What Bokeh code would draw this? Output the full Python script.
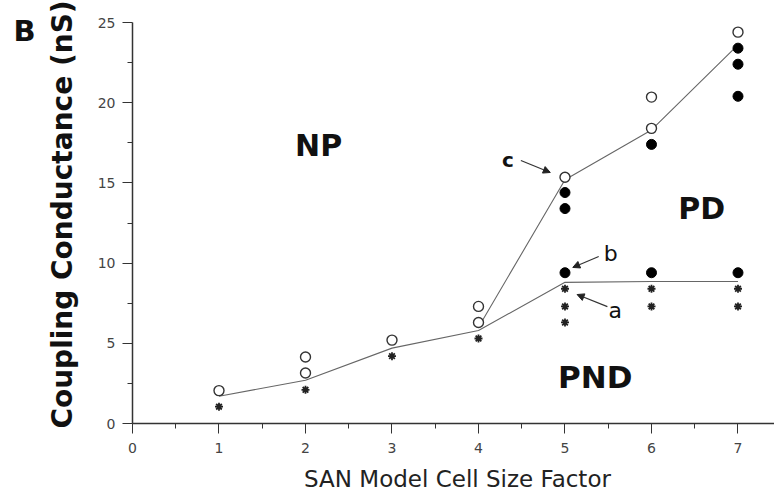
import math
from bokeh.plotting import figure
from bokeh.models import FixedTicker, Range1d, Label, Arrow, NormalHead
from bokeh.embed import file_html
from bokeh.resources import INLINE

# ---- data ----
open_x = [1, 2, 2, 3, 4, 4, 5, 6, 6, 7]
open_y = [2.05, 4.15, 3.15, 5.2, 7.3, 6.3, 15.35, 20.35, 18.4, 24.4]
filled_x = [5, 5, 5, 6, 6, 7, 7, 7, 7]
filled_y = [14.4, 13.4, 9.4, 17.4, 9.4, 23.4, 22.4, 20.4, 9.4]
star_x = [1, 2, 3, 4, 5, 5, 5, 6, 6, 7, 7]
star_y = [1.05, 2.1, 4.2, 5.3, 8.4, 7.3, 6.3, 8.4, 7.3, 8.4, 7.3]
lower_x = [1, 2, 3, 4, 5, 6, 7]
lower_y = [1.7, 2.7, 4.7, 5.8, 8.8, 8.85, 8.85]
upper_x = [4, 5, 6, 7]
upper_y = [6.0, 15.2, 18.3, 23.6]
x_ticks = [0, 1, 2, 3, 4, 5, 6, 7]
x_minor = [0.5, 1.5, 2.5, 3.5, 4.5, 5.5, 6.5]
y_ticks = [0, 5, 10, 15, 20, 25]
y_minor = [2.5, 7.5, 12.5, 17.5, 22.5]
regions = ["NP", "PD", "PND"]

# frame fills the canvas; axes are pinned at 0 with fixed_location
p = figure(width=774, height=494, x_range=Range1d(-1.526, 7.422), y_range=Range1d(-4.426, 26.372),
           output_backend="svg", toolbar_location=None, min_border=0,
           min_border_left=0, min_border_right=0, min_border_top=0, min_border_bottom=0)
p.outline_line_color = None
p.grid.visible = False
p.background_fill_color = "white"
p.border_fill_color = "white"

AX = "#333333"
for ax in (p.xaxis[0], p.yaxis[0]):
    ax.fixed_location = 0
    ax.axis_line_color = AX
    ax.axis_line_width = 1.5
    ax.major_tick_line_color = AX
    ax.minor_tick_line_color = AX
    ax.major_tick_out = 10
    ax.major_tick_in = 0
    ax.minor_tick_out = 5
    ax.minor_tick_in = 0
    ax.major_label_text_font = "DejaVu Sans"
    ax.major_label_text_font_size = "14px"
    ax.major_label_text_color = "#444444"

p.xaxis.bounds = (0, 7.422)
p.yaxis.bounds = (0, 25)
p.xaxis.major_label_standoff = 9
p.yaxis.major_label_standoff = 7
p.xaxis.ticker = FixedTicker(ticks=x_ticks, minor_ticks=x_minor)
p.yaxis.ticker = FixedTicker(ticks=y_ticks, minor_ticks=y_minor)

# lines
p.line(lower_x, lower_y, line_color="#666666", line_width=1.1)
p.line(upper_x, upper_y, line_color="#666666", line_width=1.1)

# markers
p.scatter(star_x, star_y, marker="asterisk", size=8, line_color="#222222", line_width=1.8)
p.scatter(filled_x, filled_y, marker="circle", size=10, fill_color="black", line_color="black")
p.scatter(open_x, open_y, marker="circle", size=10, fill_color="white", line_color="#333333", line_width=1.4)

# region labels
reg_pos = [(1.88, 17.33, 30), (6.31, 13.41, 30), (4.92, 2.93, 31)]
for name, (xx, yy, fs) in zip(regions, reg_pos):
    p.add_layout(Label(x=xx, y=yy, text=name, text_font="DejaVu Sans", text_font_style="bold",
                       text_font_size=f"{fs}px", text_color="#111111",
                       text_align="left", text_baseline="alphabetic"))

# small letters and arrows
p.add_layout(Label(x=4.34, y=16.4, text="c", text_font="DejaVu Sans", text_font_style="bold",
                   text_font_size="20px", text_align="center", text_baseline="middle", text_color="#111111"))
p.add_layout(Label(x=5.53, y=10.6, text="b", text_font="DejaVu Sans",
                   text_font_size="22px", text_align="center", text_baseline="middle", text_color="#111111"))
p.add_layout(Label(x=5.58, y=7.04, text="a", text_font="DejaVu Sans",
                   text_font_size="22px", text_align="center", text_baseline="middle", text_color="#111111"))
for xs, ys, xe, ye in [(4.49, 16.4, 4.83, 15.65), (5.39, 10.41, 5.09, 9.73), (5.49, 7.29, 5.14, 8.04)]:
    p.add_layout(Arrow(end=NormalHead(size=7, fill_color="#222222", line_color="#222222"),
                       x_start=xs, y_start=ys, x_end=xe, y_end=ye,
                       line_color="#333333", line_width=1.2))

# panel letter and axis titles
p.add_layout(Label(x=-1.376, y=24.44, text="B",
                   text_font="DejaVu Sans", text_font_style="bold", text_font_size="29px",
                   text_color="#111111", text_baseline="alphabetic"))
p.add_layout(Label(x=-0.81, y=13.03, angle=math.pi / 2,
                   text="Coupling Conductance (nS)", text_font="DejaVu Sans",
                   text_font_style="bold", text_font_size="28px", text_color="#111111",
                   text_align="center", text_baseline="middle"))
p.add_layout(Label(x=3.757, y=-3.45,
                   text="SAN Model Cell Size Factor", text_font="DejaVu Sans",
                   text_font_size="23px", text_color="#222222",
                   text_align="center", text_baseline="alphabetic"))

open("out.html", "w").write(file_html(p, INLINE))
